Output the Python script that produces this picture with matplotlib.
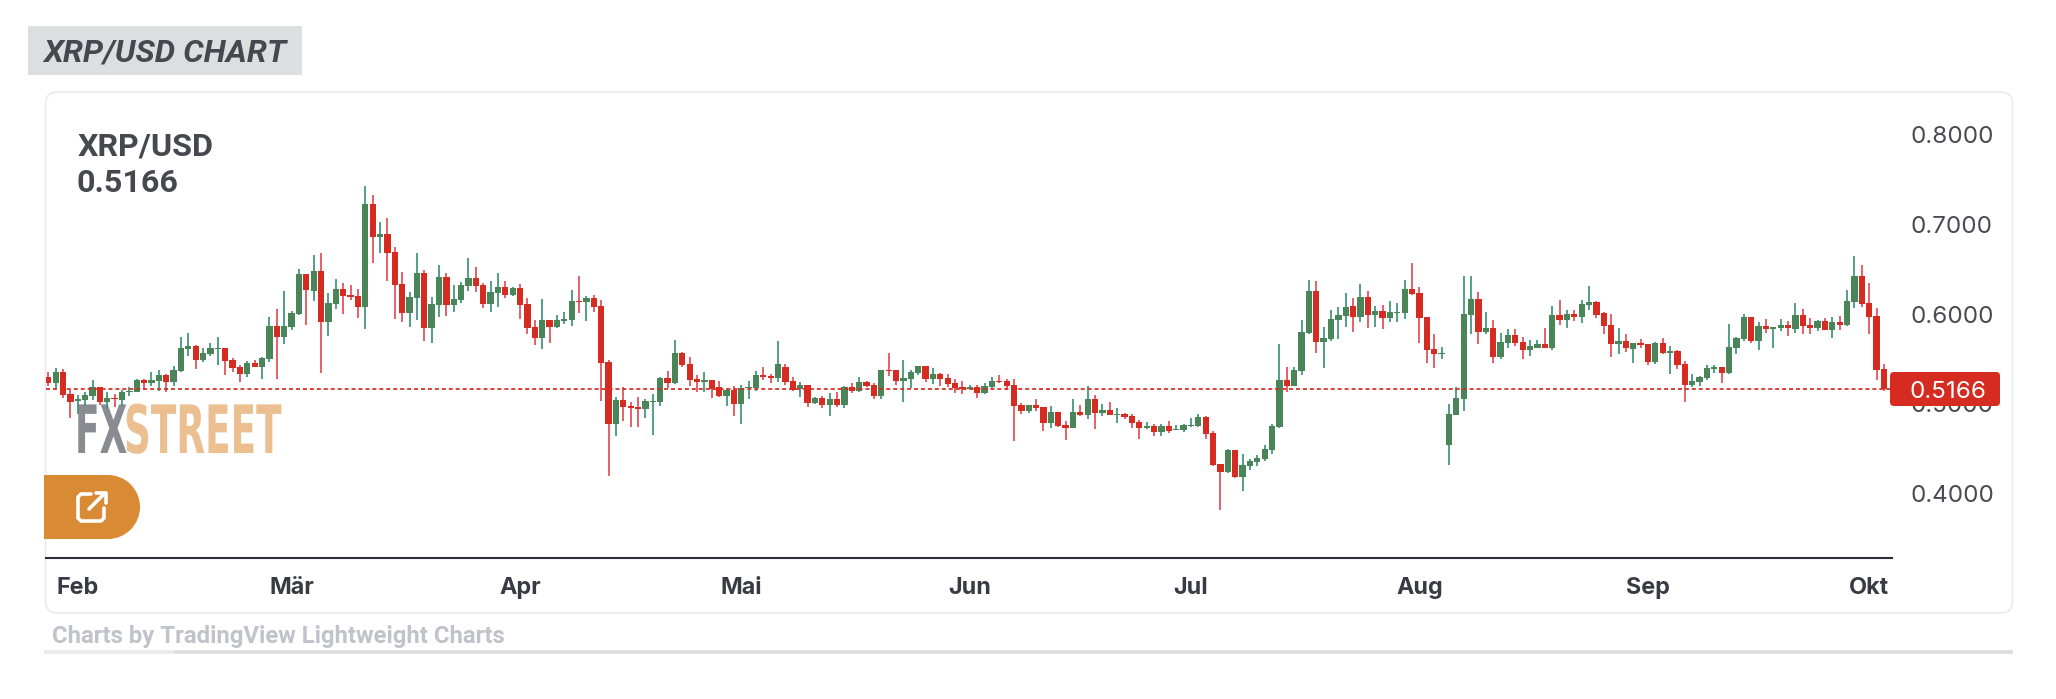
import numpy as np
import pandas as pd
import matplotlib
matplotlib.use("Agg")
import matplotlib.pyplot as plt
import matplotlib.dates as mdates
import matplotlib.patheffects as pe
from matplotlib.patches import FancyBboxPatch, Rectangle, Circle
from matplotlib.transforms import Affine2D

W, H = 2056, 699

first_day = "2024-01-28"

# R = down candle, G = up candle
candle_dir = ("RGRRGGGRGR" "GGGRGGRGGG" "RGGGRRRGRG" "GRGGGRGRGG" "RRRGRGRRRG"
              "GRGGRGGGRR" "GGRGRRRGRG" "GGRGRRRGRR" "RGGGRGRRRG" "RRGRGGGRRG"
              "RRGRGRGRGR" "GRRGRRGGGR" "GRRRRGRGGR" "RRRGRRGRRG" "RGRGRGRRRG"
              "RGRGGGGRRR" "GRGGGGGGRG" "GGRGGGGRGR" "GRGGGRRRRG" "GGGGRGRGGR"
              "RGGRGRGRGG" "RRRGRGRRGR" "GRRGGGGRGG" "GRGRGGRGRR" "GRGRGGRRRR")

highs = [
    .5351, .5396, .5385, .5150, .5094, .5128, .5262, .5184, .5128, .5106,
    .5150, .5184, .5273, .5273, .5351, .5373, .5329, .5418, .5742, .5786,
    .5652, .5619, .5675, .5742, .5619, .5507, .5429, .5474, .5485, .5518,
    .5965, .6054, .6255, .6032, .6501, .6445, .6657, .6679, .6233, .6389,
    .6344, .6322, .6277, .7427, .7326, .7025, .7070, .6746, .6467, .6244,
    .6679, .6489, .6188, .6545, .6456, .6322, .6355, .6623, .6523, .6344,
    .6367, .6456, .6367, .6300, .6333, .6177, .5931, .6166, .5931, .5987,
    .6021, .6266, .6422, .6199, .6210, .6155, .5485, .5072, .5184, .5016,
    .5072, .5050, .5106, .5295, .5362, .5708, .5574, .5518, .5318, .5352,
    .5263, .5252, .5174, .5196, .5207, .5252, .5364, .5408, .5330, .5698,
    .5442, .5297, .5241, .5207, .5073, .5085, .5118, .5129, .5196, .5230,
    .5297, .5252, .5230, .5375, .5565, .5375, .5486, .5375, .5419, .5419,
    .5397, .5341, .5330, .5274, .5252, .5207, .5207, .5230, .5297, .5319,
    .5274, .5274, .5006, .4984, .5051, .4961, .4973, .4906, .4805, .5051,
    .4984, .5196, .5095, .4995, .5017, .4950, .4895, .4883, .4816, .4794,
    .4772, .4772, .4805, .4761, .4772, .4839, .4883, .4861, .4694, .4325,
    .4493, .4482, .4437, .4381, .4426, .4537, .4772, .5665, .5408, .5408,
    .5932, .6379, .6368, .5854, .6044, .6077, .6234, .6178, .6334, .6256,
    .6088, .6100, .6144, .6122, .6379, .6568, .6300, .5966, .5776, .5631,
    .4995, .5184, .6423, .6423, .6245, .6021, .5932, .5787, .5832, .5832,
    .5742, .5709, .5709, .5843, .6088, .6155, .6044, .6044, .6155, .6312,
    .6144, .6021, .5999, .5843, .5776, .5676, .5720, .5664, .5687, .5731,
    .5642, .5597, .5475, .5330, .5307, .5430, .5430, .5408, .5888, .5742,
    .6000, .5966, .5910, .5943, .5854, .5943, .5921, .6122, .6055, .5955,
    .5932, .5955, .5966, .5977, .6267, .6646, .6546, .6345, .6066, .5441,
]
lows = [
    .5195, .5173, .5061, .4838, .4882, .4972, .5039, .4983, .4949, .4960,
    .4972, .5083, .5128, .5150, .5195, .5139, .5128, .5195, .5351, .5530,
    .5385, .5463, .5530, .5429, .5318, .5351, .5239, .5295, .5407, .5273,
    .5463, .5273, .5664, .5820, .5987, .5876, .6143, .5340, .5753, .6054,
    .5998, .6155, .5954, .5831, .6568, .6679, .6367, .5943, .5909, .5853,
    .5931, .5697, .5675, .5965, .5976, .6021, .6121, .6255, .6244, .6065,
    .6021, .6076, .6177, .6199, .5943, .5775, .5652, .5608, .5675, .5842,
    .5887, .5864, .6010, .5920, .6021, .5027, .4190, .4637, .4804, .4737,
    .4737, .4838, .4648, .4972, .5173, .5217, .5407, .5195, .5128, .5129,
    .5062, .5073, .4973, .4861, .4772, .5051, .5140, .5263, .5230, .5241,
    .5207, .5140, .5073, .4962, .4995, .4951, .4861, .4962, .4951, .5118,
    .5129, .5185, .5051, .5051, .5308, .5207, .5018, .5174, .5319, .5241,
    .5219, .5196, .5185, .5118, .5107, .5152, .5062, .5107, .5174, .5230,
    .5152, .4582, .4884, .4895, .4917, .4694, .4727, .4738, .4593, .4727,
    .4861, .4828, .4716, .4861, .4872, .4783, .4828, .4727, .4604, .4716,
    .4638, .4638, .4671, .4705, .4682, .4738, .4738, .4604, .4303, .3812,
    .4225, .4169, .4024, .4258, .4303, .4359, .4437, .4727, .5129, .5196,
    .5319, .5776, .5564, .5397, .5698, .5720, .5854, .5798, .5910, .5843,
    .5854, .5832, .5910, .5910, .5943, .6211, .5676, .5452, .5396, .5497,
    .4314, .4872, .4917, .5776, .5664, .5776, .5452, .5497, .5620, .5642,
    .5497, .5530, .5620, .5620, .5597, .5876, .5843, .5921, .5899, .6044,
    .5955, .5776, .5519, .5553, .5575, .5452, .5620, .5430, .5441, .5553,
    .5330, .5385, .5017, .5184, .5196, .5263, .5341, .5229, .5330, .5553,
    .5698, .5676, .5597, .5787, .5620, .5809, .5754, .5787, .5776, .5776,
    .5809, .5821, .5731, .5821, .5865, .6066, .6077, .5776, .5263, .5140,
]
body_tops = [
    .5295, .5351, .5351, .5106, .5050, .5094, .5184, .5184, .5061, .5061,
    .5128, .5143, .5262, .5262, .5262, .5318, .5318, .5373, .5619, .5641,
    .5641, .5563, .5619, .5619, .5619, .5485, .5407, .5452, .5452, .5507,
    .5864, .5864, .5864, .6009, .6445, .6445, .6478, .6478, .6121, .6277,
    .6277, .6210, .6199, .7226, .7226, .6891, .6891, .6690, .6333, .6188,
    .6456, .6456, .6110, .6411, .6411, .6166, .6322, .6400, .6400, .6322,
    .6244, .6300, .6300, .6289, .6289, .6110, .5853, .5931, .5931, .5931,
    .5946, .6143, .6147, .6177, .6177, .6088, .5463, .5039, .5039, .4972,
    .4960, .5027, .5027, .5284, .5284, .5563, .5563, .5440, .5273, .5263,
    .5263, .5185, .5152, .5152, .5174, .5185, .5319, .5319, .5308, .5442,
    .5408, .5252, .5207, .5207, .5062, .5062, .5051, .5051, .5185, .5185,
    .5241, .5241, .5207, .5375, .5375, .5375, .5286, .5352, .5419, .5419,
    .5330, .5330, .5286, .5230, .5185, .5185, .5185, .5196, .5252, .5252,
    .5252, .5207, .4984, .4984, .4984, .4961, .4906, .4906, .4761, .4906,
    .4906, .5051, .5051, .4928, .4928, .4883, .4883, .4861, .4794, .4749,
    .4749, .4749, .4749, .4716, .4761, .4761, .4850, .4850, .4671, .4325,
    .4482, .4482, .4314, .4359, .4392, .4493, .4749, .5263, .5263, .5374,
    .5798, .6256, .6256, .5732, .5944, .5988, .6077, .6089, .6189, .6189,
    .6033, .6033, .6021, .6021, .6278, .6278, .6234, .5966, .5609, .5564,
    .4883, .5062, .6000, .6167, .6167, .5843, .5843, .5687, .5765, .5765,
    .5687, .5642, .5664, .5664, .5988, .5988, .6000, .6000, .6111, .6133,
    .6133, .6010, .5876, .5698, .5698, .5676, .5676, .5664, .5676, .5676,
    .5586, .5586, .5441, .5251, .5296, .5396, .5408, .5408, .5631, .5731,
    .5966, .5966, .5865, .5865, .5854, .5876, .5876, .5988, .5988, .5876,
    .5921, .5921, .5910, .5910, .6144, .6423, .6423, .6122, .5977, .5385,
]
body_bots = [
    .5228, .5228, .5094, .5016, .5027, .5039, .5083, .5016, .5016, .5050,
    .5039, .5128, .5128, .5228, .5228, .5251, .5239, .5239, .5362, .5608,
    .5485, .5485, .5552, .5608, .5474, .5396, .5329, .5329, .5407, .5407,
    .5496, .5742, .5742, .5853, .5998, .6266, .6255, .5909, .5909, .6110,
    .6199, .6188, .6076, .6076, .6858, .6858, .6679, .6322, .6010, .6010,
    .6177, .5842, .5842, .6099, .6099, .6099, .6155, .6311, .6311, .6110,
    .6110, .6233, .6210, .6210, .6099, .5842, .5730, .5730, .5853, .5853,
    .5920, .5931, .6132, .6132, .6076, .5452, .4771, .4771, .4960, .4949,
    .4938, .4938, .5016, .5016, .5228, .5228, .5429, .5262, .5239, .5241,
    .5163, .5085, .5085, .4995, .4995, .5174, .5174, .5297, .5286, .5286,
    .5241, .5152, .5163, .5006, .5006, .4984, .4984, .4984, .4984, .5140,
    .5140, .5196, .5085, .5085, .5364, .5252, .5252, .5274, .5341, .5274,
    .5274, .5274, .5219, .5174, .5163, .5163, .5118, .5118, .5185, .5241,
    .5196, .4973, .4917, .4917, .4950, .4783, .4783, .4749, .4727, .4727,
    .4872, .4872, .4895, .4895, .4872, .4872, .4850, .4783, .4727, .4727,
    .4682, .4682, .4694, .4705, .4705, .4749, .4749, .4660, .4314, .4236,
    .4236, .4180, .4180, .4303, .4348, .4381, .4482, .4738, .5196, .5196,
    .5363, .5787, .5687, .5687, .5720, .5932, .5977, .5966, .5966, .5988,
    .5988, .5955, .5955, .6010, .6010, .6222, .5955, .5597, .5553, .5553,
    .4537, .4872, .5051, .5988, .5798, .5798, .5519, .5519, .5675, .5675,
    .5597, .5597, .5620, .5620, .5620, .5932, .5932, .5966, .5966, .6100,
    .5988, .5865, .5664, .5664, .5620, .5609, .5653, .5463, .5463, .5564,
    .5564, .5430, .5207, .5207, .5240, .5285, .5385, .5341, .5341, .5620,
    .5720, .5698, .5698, .5832, .5832, .5843, .5843, .5832, .5865, .5843,
    .5843, .5821, .5821, .5876, .5876, .6133, .6111, .5966, .5374, .5162,
]

month_starts = ["2024-02-01", "2024-03-01", "2024-04-01", "2024-05-01", "2024-06-01",
                "2024-07-01", "2024-08-01", "2024-09-01", "2024-10-01"]
month_labels = ["Feb", "Mär", "Apr", "Mai", "Jun", "Jul", "Aug", "Sep", "Okt"]
price_ticks = [0.4, 0.5, 0.6, 0.7, 0.8]
last_price = 0.5166

GREEN_BODY, GREEN_WICK = "#4a8559", "#359072"
RED_BODY, RED_WICK = "#d62b20", "#e2474f"
INK = "#47474f"

plt.rcParams["font.family"] = ["Inter", "DejaVu Sans"]


class SquashX(pe.AbstractPathEffect):
    # the logo lettering is far narrower than any installed font
    def __init__(self, sx):
        super().__init__()
        self.sx = sx

    def draw_path(self, renderer, gc, tpath, affine, rgbFace=None):
        renderer.draw_path(gc, tpath, Affine2D().scale(self.sx, 1) + affine, rgbFace)


fig = plt.figure(figsize=(W / 100, H / 100), dpi=100, facecolor="white")


def px_axes(zorder):
    a = fig.add_axes([0, 0, 1, 1], zorder=zorder)
    a.set_xlim(0, W)
    a.set_ylim(H, 0)
    a.axis("off")
    a.patch.set_alpha(0)
    return a


# page furniture, under the candles
bg = px_axes(0)
bg.add_patch(Rectangle((28, 26), 274, 49, fc="#dddee0", ec="none"))
bg.text(43, 62, "XRP/USD CHART", family="Roboto", weight="bold", style="italic",
        size=23.2, color=INK, va="baseline")
bg.add_patch(FancyBboxPatch((45.5, 92), 1967, 521, boxstyle="round,pad=0,rounding_size=12",
                            fc="white", ec="#ebebf2", lw=1.3))
bg.text(78, 155, "XRP/USD", family="Roboto", weight="bold", size=23.2, color=INK, va="baseline")
bg.text(77, 192, "0.5166", family="Roboto", weight="bold", size=23.2, color=INK, va="baseline")
bg.text(75, 453, "FX", family="Liberation Sans Narrow", weight="bold", size=48, color="#898b91",
        va="baseline", path_effects=[SquashX(0.54)])
bg.text(124, 453, "STREET", family="Liberation Sans Narrow", weight="bold", size=48, color="#ebbf90",
        va="baseline", path_effects=[SquashX(0.56)])
bg.text(52, 643, "Charts by TradingView Lightweight Charts", family="Roboto", weight="bold",
        size=17.2, color="#c1c2ca", va="baseline")
bg.plot([44, 175], [652, 652], color="#e9e9eb", lw=2.6, solid_capstyle="butt")
bg.plot([175, 2013], [652, 652], color="#dcdcdf", lw=2.6, solid_capstyle="butt")

# candles
dates = pd.date_range(first_day, periods=len(highs), freq="D")
is_up = np.array([c == "G" for c in candle_dir])
highs, lows = np.array(highs), np.array(lows)
body_tops, body_bots = np.array(body_tops), np.array(body_bots)
opens = np.where(is_up, body_bots, body_tops)
closes = np.where(is_up, body_tops, body_bots)

ax = fig.add_axes([46 / W, (H - 558) / H, 1846 / W, 458 / H], zorder=1)
ax.patch.set_alpha(0)
x = mdates.date2num(dates)
ax.vlines(x, lows, highs, colors=np.where(is_up, GREEN_WICK, RED_WICK), lw=1.2, zorder=2)
ax.bar(x, closes - opens, bottom=opens, width=0.85,
       color=np.where(is_up, GREEN_BODY, RED_BODY), zorder=3)
ax.axhline(last_price, color=RED_BODY, lw=1.25, dashes=(2.3, 1.7), zorder=4)

ax.set_xlim(x[0] - 0.31, x[0] + 250.1)
ax.set_ylim(0.3280, 0.8386)
ax.xaxis.set_ticks(mdates.date2num(pd.to_datetime(month_starts)))
ax.xaxis.set_ticklabels(month_labels, weight="bold", size=16.8, color="#3a3a44")
ax.yaxis.tick_right()
ax.set_yticks(price_ticks)
ax.set_yticklabels(["%.4f" % t for t in price_ticks], size=17.4, color="#4a4a52")
ax.tick_params(axis="x", length=0, pad=13.5)
ax.tick_params(axis="y", length=0, pad=13)
for side in ["top", "left", "right"]:
    ax.spines[side].set_visible(False)
ax.spines["bottom"].set_color("#2e2e3a")
ax.spines["bottom"].set_linewidth(1.5)

# price tag and share button sit on top
top = px_axes(2)
top.add_patch(FancyBboxPatch((1890, 372), 110, 34, boxstyle="round,pad=0,rounding_size=4",
                             fc=RED_BODY, ec="none"))
top.text(1948, 389, "%.4f" % last_price, size=17.4, color="white", ha="center", va="center_baseline")

top.add_patch(Rectangle((44, 475), 64, 64, fc="#d98a35", ec="none"))
top.add_patch(Circle((108, 507), 32, fc="#d98a35", ec="none"))
top.plot([91, 81, 78, 78, 81, 101, 104, 104], [494, 494, 497, 518, 521, 521, 518, 508],
         color="white", lw=2.6, solid_joinstyle="round", solid_capstyle="round")
top.plot([89, 105], [509, 493], color="white", lw=2.6, solid_capstyle="round")
top.plot([96, 106, 106], [493, 493, 503], color="white", lw=2.6, solid_joinstyle="round",
         solid_capstyle="round")

fig.savefig("out.png", dpi=100)
